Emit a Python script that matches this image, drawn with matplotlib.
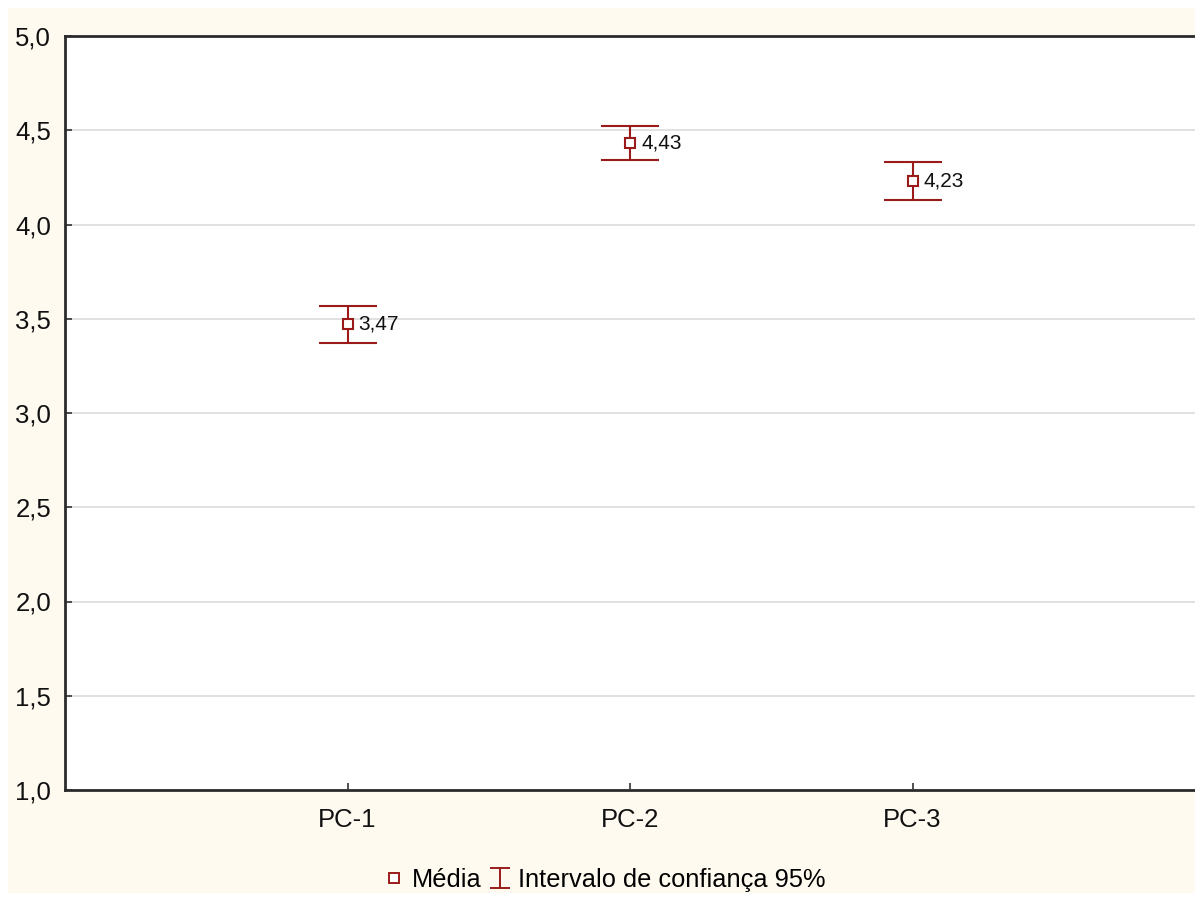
import matplotlib
matplotlib.use("Agg")
import matplotlib.pyplot as plt
from matplotlib.patches import Rectangle
from matplotlib.lines import Line2D
from matplotlib.path import Path

# Data
groups = ["PC-1", "PC-2", "PC-3"]
means = [3.47, 4.43, 4.23]
ci_half = [0.10, 0.09, 0.10]
mean_labels = ["3,47", "4,43", "4,23"]
y_ticks = [1.0, 1.5, 2.0, 2.5, 3.0, 3.5, 4.0, 4.5, 5.0]
y_tick_labels = ["1,0", "1,5", "2,0", "2,5", "3,0", "3,5", "4,0", "4,5", "5,0"]

red = "#9b1b1b"
cream = "#fffaf0"

plt.rcParams["font.family"] = ["Liberation Sans", "DejaVu Sans"]

fig = plt.figure(figsize=(11.95, 9.0), dpi=100)
fig.patch.set_facecolor("white")
fig.patches.append(Rectangle((8 / 1195, 7 / 900), 1187 / 1195, 885 / 900,
                             transform=fig.transFigure, facecolor=cream,
                             edgecolor="none", zorder=-10))

ax = fig.add_axes([65 / 1195, 110 / 900, 1130 / 1195, 754 / 900], zorder=1)
ax.set_facecolor("white")

xs = list(range(1, len(groups) + 1))
ax.errorbar(xs, means, yerr=ci_half, fmt="none", ecolor=red, elinewidth=1.5,
            capsize=21, capthick=1.5, zorder=3)
ax.plot(xs, means, linestyle="none", marker="s", markersize=7,
        markerfacecolor="white", markeredgecolor=red, markeredgewidth=1.5,
        zorder=4)
for x, m, lab in zip(xs, means, mean_labels):
    ax.annotate(lab, (x, m), xytext=(8, 0), textcoords="offset points",
                ha="left", va="center", fontsize=15, color="#111111", zorder=5)

ax.set_xlim(0, 4)
ax.set_ylim(1.0, 5.0)
ax.set_xticks(xs)
ax.set_xticklabels(groups, fontsize=18.5)
ax.set_yticks(y_ticks)
ax.set_yticklabels(y_tick_labels, fontsize=18.5)
ax.tick_params(axis="both", direction="in", length=5, width=1.2,
               colors="#333333", labelcolor="#111111")
ax.tick_params(axis="x", pad=13)
ax.tick_params(axis="y", pad=10)
ax.yaxis.grid(True, color="#d9d9d9", linewidth=1.1)
ax.set_axisbelow(True)

for side in ("left", "bottom", "top"):
    ax.spines[side].set_linewidth(2.0)
    ax.spines[side].set_color("#2b2b2b")
ax.spines["right"].set_visible(False)

# Legend: hollow square for the mean and an I-shaped glyph for the interval
ci_glyph = Path([(-0.5, 0.5), (0.5, 0.5), (0, 0.5), (0, -0.5),
                 (-0.5, -0.5), (0.5, -0.5)],
                [Path.MOVETO, Path.LINETO, Path.MOVETO, Path.LINETO,
                 Path.MOVETO, Path.LINETO])
h_mean = Line2D([], [], linestyle="none", marker="s", markersize=7,
                markerfacecolor="white", markeredgecolor=red,
                markeredgewidth=1.4)
h_ci = Line2D([], [], linestyle="none", marker=ci_glyph, markersize=15,
              markeredgecolor=red, markerfacecolor="none", markeredgewidth=1.4)
fig.legend([h_mean, h_ci], ["Média", "Intervalo de confiança 95%"],
           loc="center", bbox_to_anchor=(606 / 1195, 1 - 880 / 900),
           ncol=2, frameon=False, fontsize=18.3, handlelength=0.6,
           handletextpad=0.4, columnspacing=0.4)

fig.savefig("out.png", dpi=100, facecolor=fig.get_facecolor())
